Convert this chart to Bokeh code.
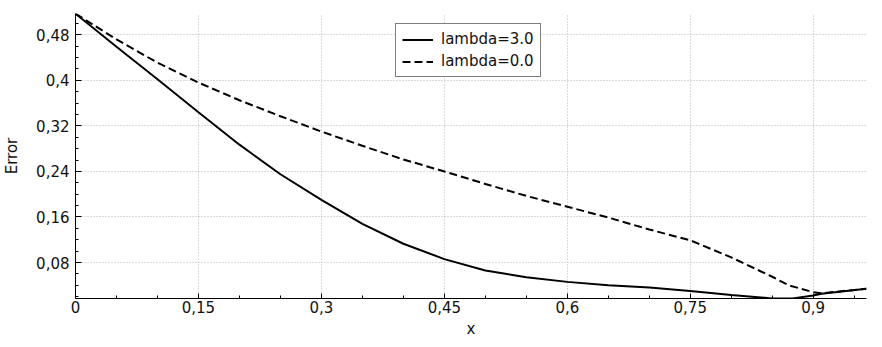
from bokeh.plotting import figure
from bokeh.models import FixedTicker, Range1d, Legend, LegendItem
from bokeh.embed import file_html
from bokeh.resources import INLINE

# ---- data ----
x_l3 = [0, 0.05, 0.1, 0.15, 0.2, 0.25, 0.3, 0.35, 0.4, 0.45, 0.5, 0.55, 0.6,
        0.65, 0.7, 0.75, 0.8, 0.85, 0.875, 0.9, 0.91, 0.965]
y_l3 = [0.517, 0.459, 0.402, 0.344, 0.287, 0.235, 0.190, 0.148, 0.113, 0.086,
        0.066, 0.054, 0.046, 0.040, 0.036, 0.030, 0.023, 0.017, 0.017, 0.022,
        0.025, 0.034]

x_l0 = [0, 0.05, 0.1, 0.15, 0.2, 0.25, 0.3, 0.35, 0.4, 0.45, 0.5, 0.55, 0.6,
        0.65, 0.7, 0.75, 0.8, 0.85, 0.87, 0.9, 0.91, 0.965]
y_l0 = [0.517, 0.472, 0.431, 0.396, 0.365, 0.337, 0.310, 0.285, 0.261, 0.240,
        0.218, 0.197, 0.178, 0.159, 0.138, 0.119, 0.089, 0.055, 0.040, 0.028,
        0.026, 0.034]

x_ticks = [0, 0.15, 0.3, 0.45, 0.6, 0.75, 0.9]
x_tick_labels = ["0", "0,15", "0,3", "0,45", "0,6", "0,75", "0,9"]
x_minor = [0.05, 0.1, 0.2, 0.25, 0.35, 0.4, 0.5, 0.55, 0.65, 0.7, 0.8, 0.85, 0.95]

y_ticks = [0.08, 0.16, 0.24, 0.32, 0.4, 0.48]
y_tick_labels = ["0,08", "0,16", "0,24", "0,32", "0,4", "0,48"]
y_minor = [0.02, 0.04, 0.06, 0.10, 0.12, 0.14, 0.18, 0.20, 0.22, 0.26, 0.28,
           0.30, 0.34, 0.36, 0.38, 0.42, 0.44, 0.46, 0.50]

FONT = "DejaVu Sans"

p = figure(width=874, height=340, output_backend="svg", toolbar_location=None,
           x_range=Range1d(0, 0.965), y_range=Range1d(0.0168, 0.5174),
           min_border_left=70, min_border_right=8, min_border_top=13,
           min_border_bottom=40, x_axis_label="x", y_axis_label="Error")
p.outline_line_color = None
p.background_fill_color = "white"
p.border_fill_color = "white"

r1 = p.line(x_l3, y_l3, line_color="black", line_width=2)
r0 = p.line(x_l0, y_l0, line_color="black", line_width=2, line_dash="8 4")

# axes
p.xaxis.ticker = FixedTicker(ticks=x_ticks, minor_ticks=x_minor)
p.yaxis.ticker = FixedTicker(ticks=y_ticks, minor_ticks=y_minor)
p.xaxis.major_label_overrides = dict(zip(x_ticks, x_tick_labels))
p.yaxis.major_label_overrides = dict(zip(y_ticks, y_tick_labels))

for ax in (p.xaxis[0], p.yaxis[0]):
    ax.axis_line_color = "black"
    ax.axis_line_width = 1
    ax.major_tick_line_color = "black"
    ax.minor_tick_line_color = "black"
    ax.major_tick_out = 0
    ax.minor_tick_out = 0
    ax.major_label_text_font = FONT
    ax.major_label_text_font_size = "15px"
    ax.major_label_text_color = "#111111"
    ax.axis_label_text_font = FONT
    ax.axis_label_text_font_size = "15px"
    ax.axis_label_text_font_style = "normal"
    ax.axis_label_text_color = "#111111"

p.xaxis.major_tick_in = 5
p.xaxis.minor_tick_in = 3
p.yaxis.major_tick_in = 6
p.yaxis.minor_tick_in = 3
p.xaxis.major_label_standoff = 2
p.xaxis.axis_label_standoff = 4
p.yaxis.major_label_standoff = 6
p.yaxis.axis_label_standoff = 12

# grid
for g in (p.xgrid[0], p.ygrid[0]):
    g.grid_line_color = "#b4b4b4"
    g.grid_line_dash = "1 2"
    g.grid_line_width = 1
p.xgrid.ticker = FixedTicker(ticks=x_ticks)
p.ygrid.ticker = FixedTicker(ticks=y_ticks)

legend = Legend(items=[LegendItem(label="lambda=3.0", renderers=[r1]),
                       LegendItem(label="lambda=0.0", renderers=[r0])],
                location=(320, 221))
legend.border_line_color = "black"
legend.border_line_width = 1
legend.background_fill_color = "white"
legend.background_fill_alpha = 1
legend.label_text_font = FONT
legend.label_text_font_size = "15px"
legend.label_text_color = "#111111"
legend.glyph_width = 31
legend.glyph_height = 17
legend.label_height = 17
legend.label_standoff = 8
legend.spacing = 4
legend.padding = 6
legend.margin = 0
p.add_layout(legend, "center")

open("out.html", "w").write(file_html(p, INLINE))
